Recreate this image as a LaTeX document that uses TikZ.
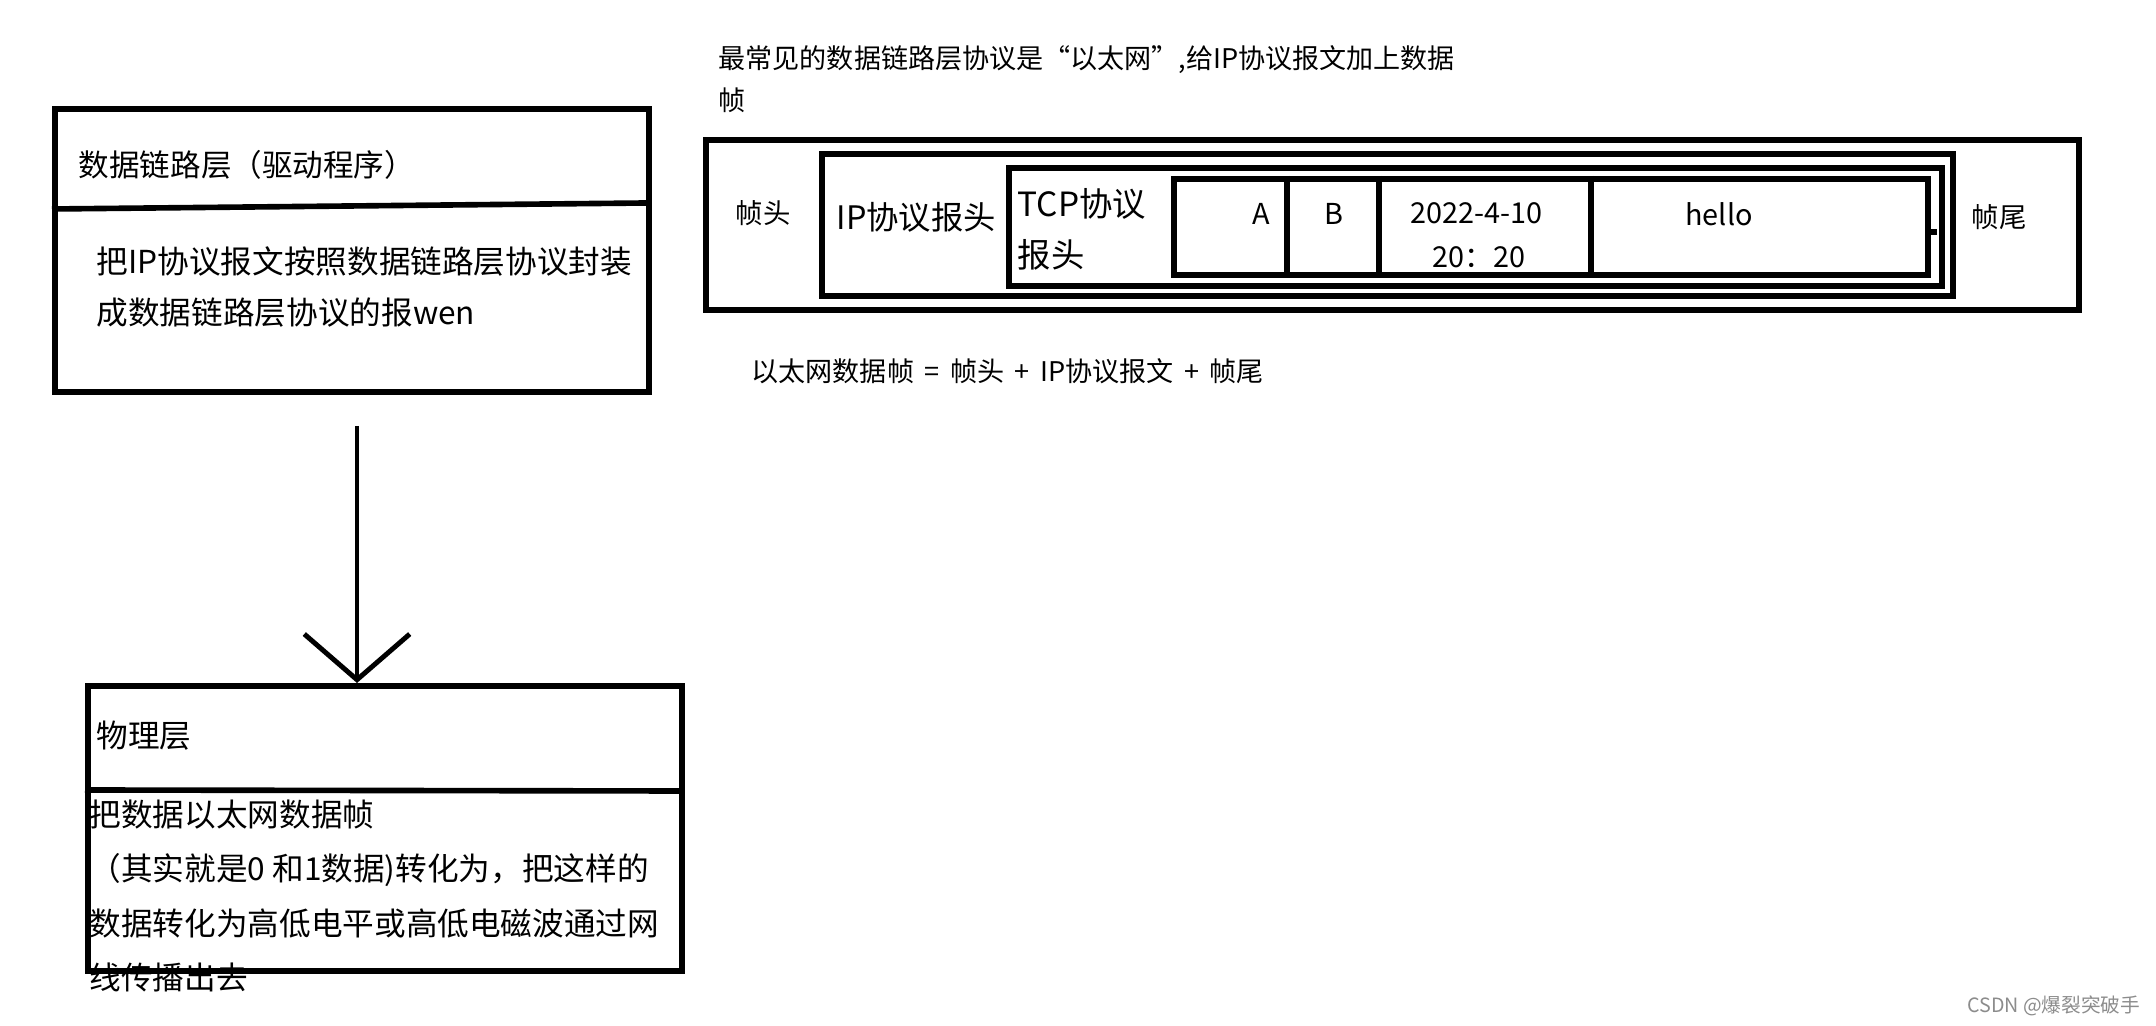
\documentclass[tikz,border=0pt]{standalone}
\usepackage{fontspec}
\setmainfont{Noto Sans CJK SC}
\usetikzlibrary{arrows.meta}

\begin{document}
\begin{tikzpicture}[
  >={Straight Barb[length=13pt,width=30pt]},
  frame/.style={draw=black, line width=1.6pt, inner sep=0pt, anchor=north west},
  divider/.style={line width=1.6pt},
  downarrow/.style={->, line width=1.4pt, draw=black},
  title/.style={anchor=west, inner sep=0pt, font=\fontsize{8.7}{10}\selectfont},
  body/.style={anchor=west, align=left, inner sep=0pt, font=\fontsize{9}{14.5}\selectfont},
  note/.style={anchor=west, align=left, inner sep=0pt, font=\fontsize{7.7}{12}\selectfont},
  field/.style={inner sep=0pt, font=\fontsize{8.2}{12.5}\selectfont},
  head/.style={inner sep=0pt, font=\fontsize{9.2}{14.5}\selectfont, align=left}
]

\fill[white] (0,0) rectangle (21.56,-10.26);
\useasboundingbox (0,0) rectangle (21.56,-10.26);

% data link layer
\node[frame, minimum width=5.94cm, minimum height=2.83cm] (dll) at (0.52,-1.06) {};
\draw[divider] (0.52,-2.09) -- (6.46,-2.03);
\node[title] (dlltitle) at (0.78,-1.65) {数据链路层（驱动程序）};
\node[body] (dllbody) at (0.96,-2.87)
  {把IP协议报文按照数据链路层协议封装\\成数据链路层协议的报wen};

% physical layer
\node[frame, minimum width=5.94cm, minimum height=2.85cm] (phy) at (0.85,-6.83) {};
\draw[divider] (0.85,-7.90) -- (6.83,-7.91);
\node[body] (phytitle) at (0.96,-7.36) {物理层};
\node[body, font=\fontsize{9}{15.4}\selectfont] (phybody) at (0.89,-8.96)
  {把数据以太网数据帧\\（其实就是0 和1数据)转化为，把这样的\\数据转化为高低电平或高低电磁波通过网\\线传播出去};

\coordinate (arrowtop) at (3.57,-4.26);
\draw[downarrow] (arrowtop) -- (arrowtop |- phy.north);

% ethernet frame
\node[note] (topnote) at (7.18,-0.79)
  {最常见的数据链路层协议是“以太网”,给IP协议报文加上数据\\帧};

\node[frame, minimum width=13.73cm, minimum height=1.70cm] (ethframe) at (7.03,-1.37) {};
\node[frame, minimum width=11.31cm, minimum height=1.42cm] (ipbox) at (8.19,-1.51) {};
\node[frame, minimum width=9.33cm, minimum height=1.18cm] (tcpbox) at (10.06,-1.65) {};
\node[frame, minimum width=7.54cm, minimum height=0.96cm] (databox) at (11.71,-1.76) {};
\foreach \x in {12.87,13.79,15.91}
  \draw[divider] (\x,-1.76) -- (\x,-2.73);
\draw[divider] (databox.east) ++(0,-0.05) -- ++(0.06,0);

\node[field, font=\fontsize{7.8}{10}\selectfont] (framehead) at (7.63,-2.13) {帧头};
\node[head, anchor=west] (iphead) at (8.36,-2.17) {IP协议报头};
\node[head, anchor=west, font=\fontsize{9.5}{14.5}\selectfont] (tcphead) at (10.17,-2.29) {TCP协议\\报头};
\node[field] (srcA) at (12.61,-2.14) {A};
\node[field] (dstB) at (13.34,-2.14) {B};
\node[field] (date) at (14.76,-2.13) {2022-4-10};
\node[field] (time) at (14.79,-2.57) {20：20};
\node[field] (payload) at (17.19,-2.14) {hello};
\node[field, font=\fontsize{7.8}{10}\selectfont] (frametail) at (19.99,-2.17) {帧尾};

\node[note] (formula) at (7.51,-3.71)
  {以太网数据帧\hspace{3pt}=\hspace{3pt}帧头\hspace{3pt}+\hspace{3pt}IP协议报文\hspace{3pt}+\hspace{3pt}帧尾};

\node[anchor=east, inner sep=0pt, text=black!45, font=\fontsize{5.6}{7}\selectfont] (mark) at (21.41,-10.06) {CSDN @爆裂突破手};

\end{tikzpicture}
\end{document}
